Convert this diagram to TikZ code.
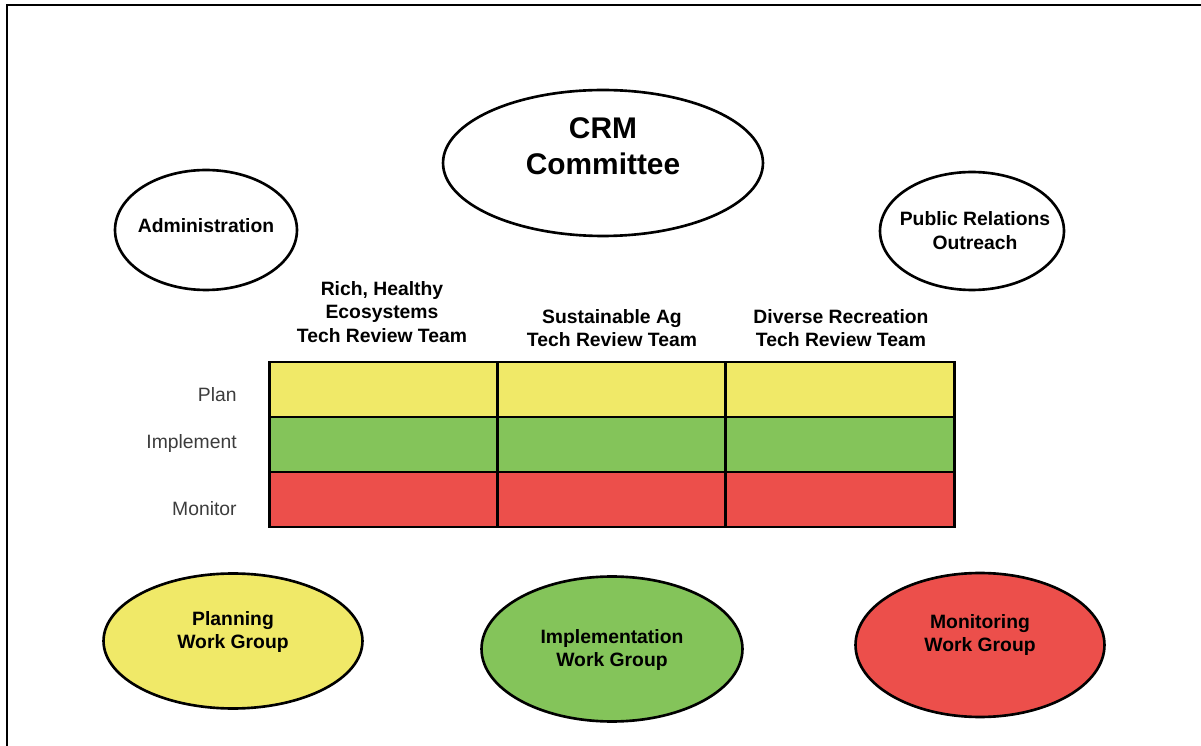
\documentclass[tikz,border=0pt]{standalone}
\usepackage{fontspec}
\setmainfont{Liberation Sans}
\usetikzlibrary{shapes.geometric}
\definecolor{planyellow}{RGB}{240,233,104}
\definecolor{implgreen}{RGB}{132,196,90}
\definecolor{monred}{RGB}{236,79,75}
\definecolor{labelgray}{RGB}{60,60,60}
\begin{document}
\begin{tikzpicture}[x=0.02cm, y=-0.02cm,
	oval/.style = {ellipse, draw, line width=1.5pt, inner sep=0pt},
	ovaltext/.style = {align=center, inner sep=0pt, font=\bfseries\fontsize{11}{13.6}\selectfont},
	cell/.style = {rectangle, draw, line width=1.5pt, minimum width=4.57cm, minimum height=1.1cm, inner sep=0pt},
	head/.style = {align=center, inner sep=0pt, font=\bfseries\fontsize{11}{13.4}\selectfont},
	rowlabel/.style = {anchor=east, inner sep=0pt, text=labelgray, font=\fontsize{11}{13.6}\selectfont}]
	\useasboundingbox (0,0) rectangle (1201,746);
	\draw[line width=1.5pt] (7,746) -- (7,5) -- (1201,5);
	% top ovals
	\node[oval, minimum width=6.4cm, minimum height=2.92cm] (crm) at (603,163) {};
	\node[ovaltext, font=\bfseries\fontsize{17}{20.4}\selectfont] (crmtext) at ([yshift=0.34cm]crm.center) {CRM\\Committee};
	\node[oval, minimum width=3.64cm, minimum height=2.4cm] (admin) at (206,230) {};
	\node[ovaltext] (admintext) at ([yshift=0.08cm]admin.center) {Administration};
	\node[oval, minimum width=3.68cm, minimum height=2.36cm] (pr) at (972,231) {};
	\node[ovaltext] (prtext) at ([xshift=0.06cm]pr.center) {Public Relations\\Outreach};
	% column heads
	\node[head] (rich) at (382,312) {Rich, Healthy\\Ecosystems\\Tech Review Team};
	\node[head] (ag) at (612,328) {Sustainable Ag\\Tech Review Team};
	\node[head] (rec) at (841,328) {Diverse Recreation\\Tech Review Team};
	% grid
	\foreach \col/\cx in {rich/383.5, ag/612, rec/840} {
		\foreach \row/\cy/\clr in {plan/389.5/planyellow, impl/444.5/implgreen, mon/499.5/monred}
			\node[cell, fill=\clr] (\col-\row) at (\cx,\cy) {};
	}
	\node[rowlabel] (planlbl) at (237,395) {Plan};
	\node[rowlabel] (impllbl) at (237,444) {Implement};
	\node[rowlabel] (monlbl) at (237,509) {Monitor};
	% work groups
	\node[oval, fill=planyellow, minimum width=5.18cm, minimum height=2.7cm] (planwg) at (233,641) {};
	\node[ovaltext] (planwgtext) at ([yshift=0.18cm]planwg.center) {Planning\\Work Group};
	\node[oval, fill=implgreen, minimum width=5.22cm, minimum height=2.9cm] (implwg) at (612,649) {};
	\node[ovaltext] (implwgtext) at ([yshift=-0.02cm]implwg.center) {Implementation\\Work Group};
	\node[oval, fill=monred, minimum width=4.98cm, minimum height=2.88cm] (monwg) at (980,645) {};
	\node[ovaltext] (monwgtext) at ([yshift=0.2cm]monwg.center) {Monitoring\\Work Group};
\end{tikzpicture}
\end{document}
